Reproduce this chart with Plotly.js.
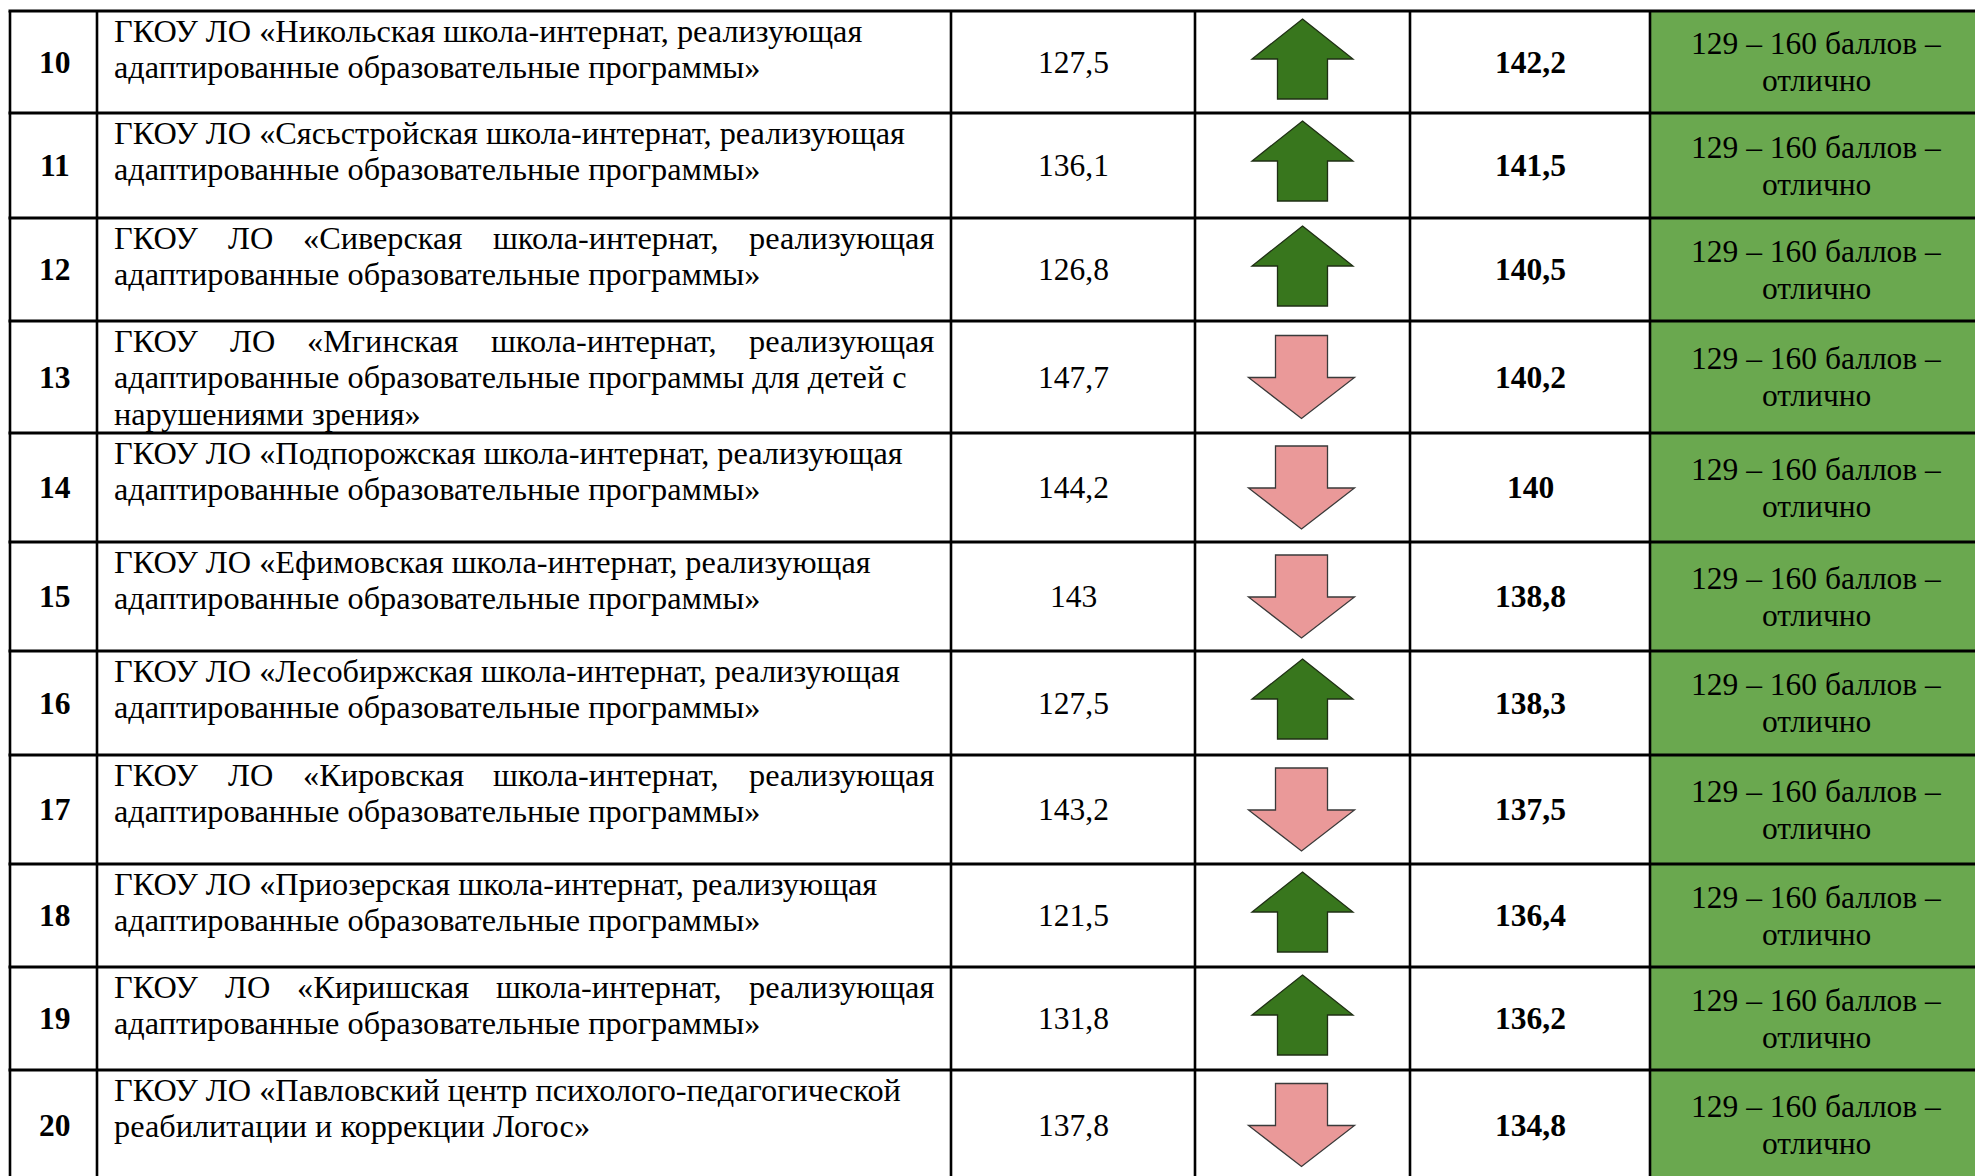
<!DOCTYPE html>
<html>
<head>
<meta charset="utf-8">
<script src="https://cdn.plot.ly/plotly-3.0.1.min.js"></script>
<style>html,body{margin:0;padding:0;background:#fff;}#chart{width:1975px;height:1176px;}</style>
</head>
<body>
<div id="chart"></div>
<script>
// ---------- DATA ----------
const rowNumbers = ['10','11','12','13','14','15','16','17','18','19','20'];
const schoolNames = [
  ['ГКОУ ЛО «Никольская школа-интернат, реализующая', 'адаптированные образовательные программы»'],
  ['ГКОУ ЛО «Сясьстройская школа-интернат, реализующая', 'адаптированные образовательные программы»'],
  ['ГКОУ ЛО «Сиверская школа-интернат, реализующая', 'адаптированные образовательные программы»'],
  ['ГКОУ ЛО «Мгинская школа-интернат, реализующая', 'адаптированные образовательные программы для детей с', 'нарушениями зрения»'],
  ['ГКОУ ЛО «Подпорожская школа-интернат, реализующая', 'адаптированные образовательные программы»'],
  ['ГКОУ ЛО «Ефимовская школа-интернат, реализующая', 'адаптированные образовательные программы»'],
  ['ГКОУ ЛО «Лесобиржская школа-интернат, реализующая', 'адаптированные образовательные программы»'],
  ['ГКОУ ЛО «Кировская школа-интернат, реализующая', 'адаптированные образовательные программы»'],
  ['ГКОУ ЛО «Приозерская школа-интернат, реализующая', 'адаптированные образовательные программы»'],
  ['ГКОУ ЛО «Киришская школа-интернат, реализующая', 'адаптированные образовательные программы»'],
  ['ГКОУ ЛО «Павловский центр психолого-педагогической', 'реабилитации и коррекции Логос»']
];
const firstLineJustified = [false,false,true,true,false,false,false,true,false,true,false];
const previousScores = ['127,5','136,1','126,8','147,7','144,2','143','127,5','143,2','121,5','131,8','137,8'];
const currentScores  = ['142,2','141,5','140,5','140,2','140','138,8','138,3','137,5','136,4','136,2','134,8'];
const gradeLabel = ['129 – 160 баллов –', 'отлично'];

// ---------- LAYOUT GEOMETRY ----------
const W = 1975, H = 1176;
const colX = [10, 97, 951, 1195, 1410, 1650, 1982];
const rowY = [11, 113, 218, 321, 433, 542, 651, 755, 864, 967, 1070, 1180];
const FONT = 'Liberation Serif';
const FS_NAME = 32.3;
const FS = 31.5;
const LINE = 36.7;
const textLeft = 113, textRight = 933;

const toNum = s => parseFloat(s.replace(',', '.'));

const canvas = document.createElement('canvas');
const ctx = canvas.getContext('2d');
ctx.font = FS_NAME + 'px "Liberation Serif"';
const measure = s => ctx.measureText(s).width;

const shapes = [];
const annotations = [];

function ann(x, y, text, opts, size) {
  annotations.push(Object.assign({
    x: x, y: y, xref: 'x', yref: 'y', text: text, showarrow: false,
    xanchor: 'center', yanchor: 'middle', borderpad: 0,
    font: {family: FONT, size: size || FS, color: '#000'}
  }, opts || {}));
}

for (let i = 0; i < rowNumbers.length; i++) {
  const top = rowY[i], bot = rowY[i + 1], cy = (top + bot) / 2;
  // green grade cell
  shapes.push({type: 'rect', xref: 'x', yref: 'y', x0: colX[5], x1: colX[6], y0: top, y1: bot,
    fillcolor: '#6AA84F', line: {width: 0}, layer: 'below'});

  // row number
  ann((colX[0] + colX[1]) / 2 + 1, cy, '<b>' + rowNumbers[i] + '</b>');

  // school name lines
  schoolNames[i].forEach((line, j) => {
    const y = top + 19.5 + j * LINE;
    if (j === 0 && firstLineJustified[i]) {
      const words = line.split(' ');
      const widths = words.map(measure);
      const total = widths.reduce((a, b) => a + b, 0);
      const gap = (textRight - textLeft - total) / (words.length - 1);
      let x = textLeft;
      words.forEach((w, k) => {
        ann(x, y, w, {xanchor: 'left'}, FS_NAME);
        x += widths[k] + gap;
      });
    } else {
      ann(textLeft, y, line, {xanchor: 'left'}, FS_NAME);
    }
  });

  // previous score
  ann((colX[2] + colX[3]) / 2, cy, previousScores[i]);
  // current score (bold)
  ann((colX[4] + colX[5]) / 2, cy, '<b>' + currentScores[i] + '</b>');
  // grade label
  ann(1816, cy - 18.5, gradeLabel[0]);
  ann(1816, cy + 18.5, gradeLabel[1]);

  // trend arrow
  const up = toNum(currentScores[i]) > toNum(previousScores[i]);
  const cx = (colX[3] + colX[4]) / 2;
  let path;
  if (up) {
    const t = top + 8, hw = 50.5, sw = 25, hh = 40, h = 80;
    path = `M${cx},${t} L${cx + hw},${t + hh} L${cx + sw},${t + hh} L${cx + sw},${t + h} ` +
           `L${cx - sw},${t + h} L${cx - sw},${t + hh} L${cx - hw},${t + hh} Z`;
    shapes.push({type: 'path', xref: 'x', yref: 'y', path: path, fillcolor: '#38761D',
      line: {color: '#1f2f14', width: 1.3}});
  } else {
    const h = 83, t = cy - h / 2, hw = 53, sw = 26, sh = 42, c = cx - 1;
    path = `M${c - sw},${t} L${c + sw},${t} L${c + sw},${t + sh} L${c + hw},${t + sh} ` +
           `L${c},${t + h} L${c - hw},${t + sh} L${c - sw},${t + sh} Z`;
    shapes.push({type: 'path', xref: 'x', yref: 'y', path: path, fillcolor: '#EA9999',
      line: {color: '#3a3a3a', width: 1.3}});
  }
}

// grid lines
rowY.forEach(y => shapes.push({type: 'line', xref: 'x', yref: 'y', x0: colX[0] - 1.5, x1: colX[colX.length - 1],
  y0: y, y1: y, line: {color: '#000', width: 3}}));
colX.forEach(x => shapes.push({type: 'line', xref: 'x', yref: 'y', x0: x, x1: x,
  y0: rowY[0], y1: rowY[rowY.length - 1], line: {color: '#000', width: 2.6}}));

const layout = {
  width: W, height: H,
  margin: {l: 0, r: 0, t: 0, b: 0, pad: 0},
  paper_bgcolor: '#fff', plot_bgcolor: '#fff',
  showlegend: false,
  xaxis: {range: [0, W], visible: false, fixedrange: true},
  yaxis: {range: [H, 0], visible: false, fixedrange: true},
  shapes: shapes,
  annotations: annotations
};

Plotly.newPlot('chart', [], layout, {staticPlot: true, displayModeBar: false});
</script>
</body>
</html>
